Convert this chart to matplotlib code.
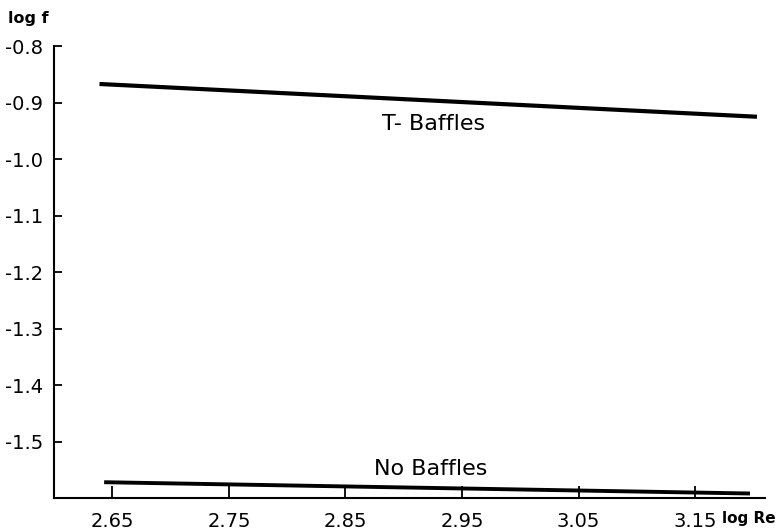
import matplotlib
matplotlib.use("Agg")
import matplotlib.pyplot as plt

# Data
t_baffles_x = [2.639, 3.203]
t_baffles_y = [-0.867, -0.925]
no_baffles_x = [2.643, 3.197]
no_baffles_y = [-1.572, -1.592]

x_ticks = [2.65, 2.75, 2.85, 2.95, 3.05, 3.15]
x_tick_labels = ["2.65", "2.75", "2.85", "2.95", "3.05", "3.15"]
y_ticks = [-0.8, -0.9, -1.0, -1.1, -1.2, -1.3, -1.4, -1.5]
y_tick_labels = ["-0.8", "-0.9", "-1.0", "-1.1", "-1.2", "-1.3", "-1.4", "-1.5"]

plt.rcParams['font.family'] = ['DejaVu Sans']

fig = plt.figure(figsize=(7.76, 5.31), dpi=100)
ax = fig.add_axes([0.0696, 0.0621, 0.9164, 0.851])

ax.plot(t_baffles_x, t_baffles_y, color='black', lw=3.0, solid_capstyle='butt')
ax.plot(no_baffles_x, no_baffles_y, color='black', lw=2.8, solid_capstyle='butt')

ax.set_xlim(2.60, 3.21)
ax.set_ylim(-1.6, -0.8)

ax.set_xticks(x_ticks)
ax.set_xticklabels(x_tick_labels, fontsize=14)
ax.set_yticks(y_ticks)
ax.set_yticklabels(y_tick_labels, fontsize=14)

ax.tick_params(axis='y', direction='in', length=6, width=1.3, pad=8)
ax.tick_params(axis='x', direction='in', length=9, width=1.3, pad=10)

for s in ['top', 'right']:
    ax.spines[s].set_visible(False)
for s in ['left', 'bottom']:
    ax.spines[s].set_linewidth(1.5)

ax.text(2.926, -0.938, "T- Baffles", fontsize=16, ha='center', va='center')
ax.text(2.923, -1.549, "No Baffles", fontsize=16, ha='center', va='center')

fig.text(8 / 776, 1 - 19 / 531, "log f", fontsize=11.5, fontweight='bold', ha='left', va='center')
fig.text(722 / 776, 1 - 519 / 531, "log Re", fontsize=11, fontweight='bold', ha='left', va='center')

fig.savefig("out.png", dpi=100)
